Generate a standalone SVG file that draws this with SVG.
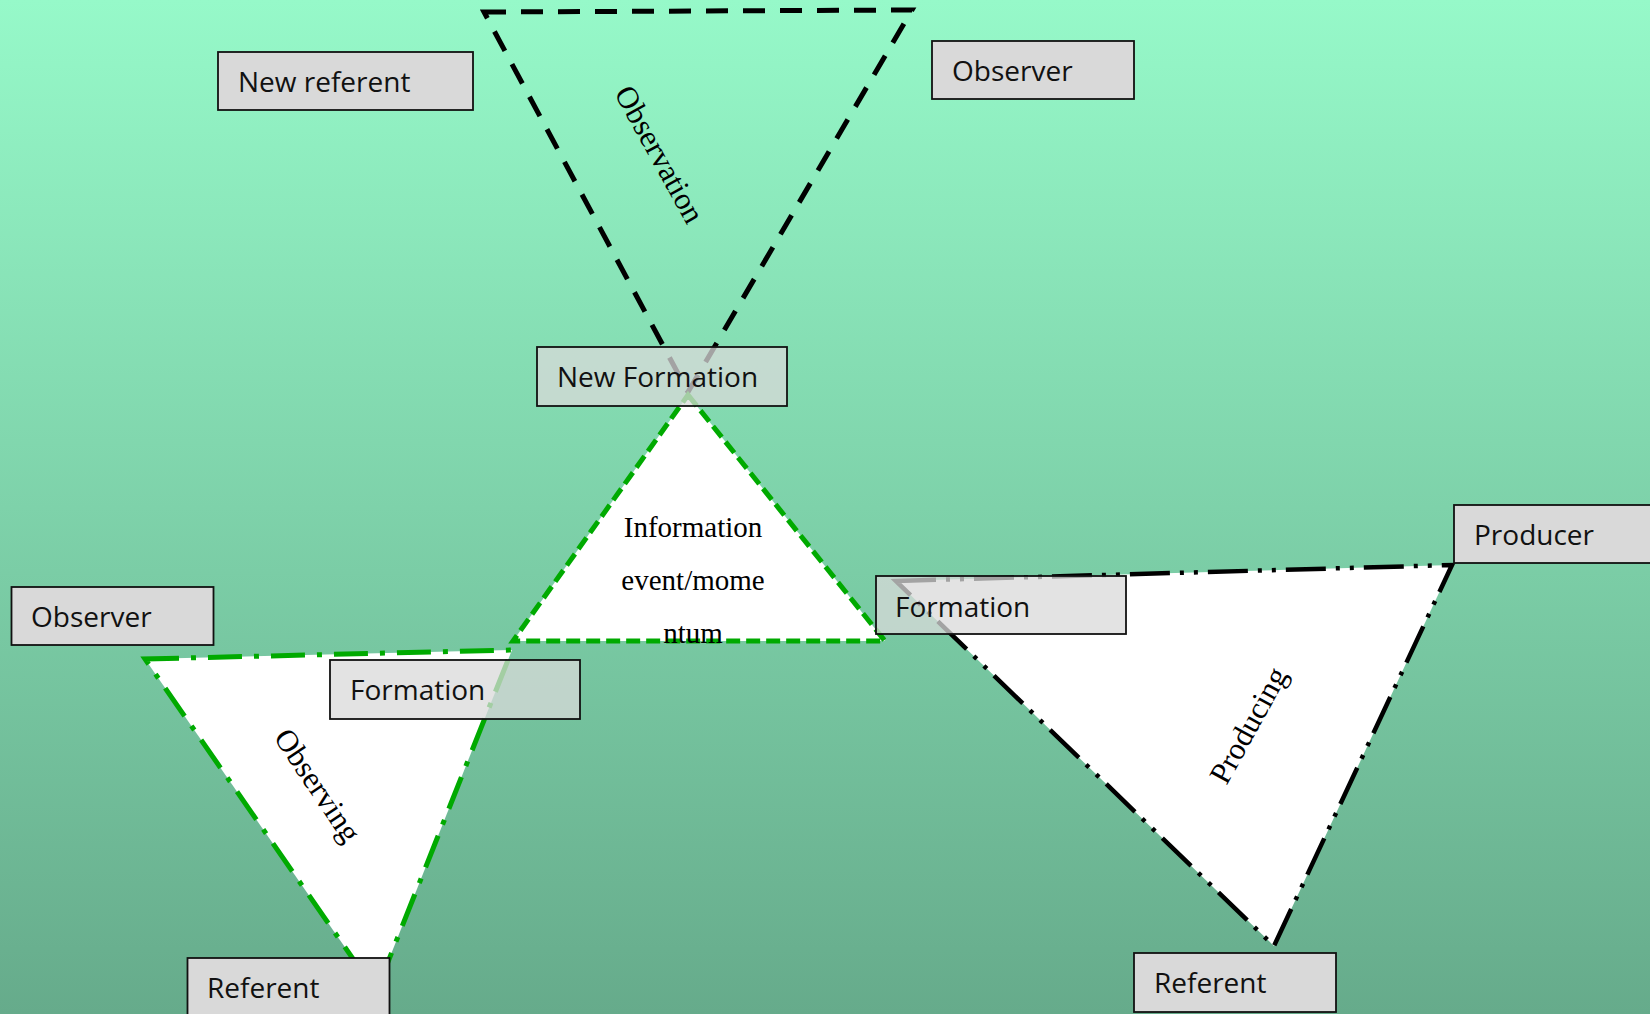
<svg xmlns="http://www.w3.org/2000/svg" width="1650" height="1014" viewBox="0 0 1650 1014">
<defs>
<linearGradient id="bg" x1="0" y1="0" x2="0" y2="1">
<stop offset="0" stop-color="#96f9c9"/>
<stop offset="1" stop-color="#66ab8b"/>
</linearGradient>
<style>
.box{fill:#d9d9d9;stroke:#111;stroke-width:1.8}
.semi{fill-opacity:0.75}
.lbl{font-family:"Open Sans","Noto Sans","Liberation Sans",sans-serif;font-size:28px;fill:#111}
.tri{font-family:"Liberation Serif","Times New Roman",serif;font-size:29px;fill:#000}
.rot{font-size:31px}
.blackdash{fill:none;stroke:#000;stroke-width:5;stroke-dasharray:22 15}
.greendash{fill:#fff;stroke:#00aa00;stroke-width:5;stroke-dasharray:14 6}
.greendashdot{fill:#fff;stroke:#00aa00;stroke-width:5;stroke-dasharray:34 12 5 12}
.blackdashdot{fill:#fff;stroke:#000;stroke-width:4.5;stroke-dasharray:40 10 4 10 4 10}
</style>
</defs>
<rect x="0" y="0" width="1650" height="1014" fill="url(#bg)"/>
<g id="connectors">
<g id="observation-triangle">
<polygon class="blackdash" points="484,12 912,10 688,392"/>
<text class="tri rot" text-anchor="middle" dy="0.35em" transform="translate(660,154) rotate(61)">Observation</text>
</g>
<g id="information-triangle">
<polygon class="greendash" points="688,395 885,641 513,641"/>
<text class="tri" text-anchor="middle" x="693" y="537">Information</text>
<text class="tri" text-anchor="middle" x="693" y="590">event/mome</text>
<text class="tri" text-anchor="middle" x="693" y="643">ntum</text>
</g>
<g id="observing-triangle">
<polygon class="greendashdot" points="145,659 512,650 376,992"/>
<text class="tri rot" text-anchor="middle" dy="0.35em" transform="translate(318,785) rotate(56)">Observing</text>
</g>
<g id="producing-triangle">
<polygon class="blackdashdot" points="896,581 1452,565 1274,946"/>
<text class="tri rot" text-anchor="middle" dy="0.35em" transform="translate(1248,725) rotate(-61)">Producing</text>
</g>
</g>
<g id="new-referent">
<rect class="box" x="218" y="52" width="255" height="58"/>
<text class="lbl" x="238" y="92">New referent</text>
</g>
<g id="observer-top">
<rect class="box" x="932" y="41" width="202" height="58"/>
<text class="lbl" x="952" y="81">Observer</text>
</g>
<g id="new-formation">
<rect class="box semi" x="537" y="347" width="250" height="59"/>
<text class="lbl" x="557" y="387">New Formation</text>
</g>
<g id="observer-left">
<rect class="box" x="11.5" y="587" width="202" height="58"/>
<text class="lbl" x="31" y="627">Observer</text>
</g>
<g id="formation-left">
<rect class="box semi" x="330" y="660" width="250" height="59"/>
<text class="lbl" x="350" y="699.5">Formation</text>
</g>
<g id="formation-right">
<rect class="box semi" x="876" y="576" width="250" height="58"/>
<text class="lbl" x="895" y="617">Formation</text>
</g>
<g id="producer">
<rect class="box" x="1454" y="505" width="210" height="58"/>
<text class="lbl" x="1474" y="545">Producer</text>
</g>
<g id="referent-right">
<rect class="box" x="1134" y="953" width="202" height="59"/>
<text class="lbl" x="1154" y="993">Referent</text>
</g>
<g id="referent-left">
<rect class="box" x="187.5" y="958" width="202" height="60"/>
<text class="lbl" x="207" y="998">Referent</text>
</g>
</svg>
